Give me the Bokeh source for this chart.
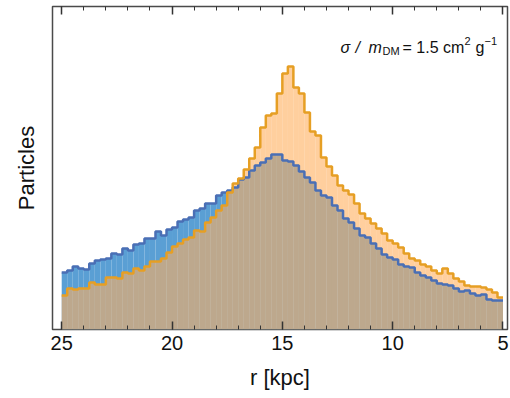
import numpy as np
from bokeh.plotting import figure
from bokeh.models import Range1d, FixedTicker, LinearAxis, Label, ColumnDataSource
from bokeh.embed import file_html
from bokeh.resources import INLINE

# bin edges from 25 kpc down to 5 kpc (80 bins of 0.25 kpc)
bin_edges = list(np.linspace(25.0, 5.0, 81))

# counts per bin (arbitrary units), ordered from r=25 to r=5
blue_counts = [57, 59, 63, 61, 60, 66, 69, 70, 71, 76,
               75, 81, 79, 85, 86, 91, 91, 98, 94, 100,
               102, 108, 110, 112, 119, 121, 126, 126, 134, 137,
               139, 142, 150, 152, 159, 164, 167, 171, 175, 175,
               169, 168, 164, 158, 152, 147, 139, 134, 132, 124,
               119, 111, 107, 101, 94, 92, 86, 81, 75, 72,
               70, 65, 63, 62, 57, 54, 52, 49, 46, 45,
               44, 41, 38, 39, 36, 34, 35, 30, 29, 29]
orange_counts = [34, 41, 40, 41, 41, 47, 45, 45, 52, 52,
                 51, 57, 56, 61, 59, 63, 68, 68, 71, 77,
                 83, 86, 90, 92, 99, 98, 107, 112, 119, 124,
                 137, 146, 151, 160, 171, 182, 202, 214, 216, 236,
                 256, 263, 242, 236, 217, 198, 194, 172, 163, 154,
                 144, 139, 135, 126, 116, 111, 106, 101, 96, 89,
                 86, 82, 76, 71, 69, 65, 63, 59, 56, 61,
                 56, 51, 48, 44, 43, 43, 42, 40, 37, 32]

x_ticks = [25, 20, 15, 10, 5]
x_minor_ticks = list(range(5, 26))

FONT = "Liberation Sans"

p = figure(width=510, height=396, output_backend="svg", toolbar_location=None,
           x_range=Range1d(start=25.417, end=4.796), y_range=Range1d(start=0, end=323),
           min_border_left=52, min_border_right=3, min_border_top=6, min_border_bottom=67,
           x_axis_label="r [kpc]", y_axis_label="Particles")
p.margin = (0, 0, 0, 0)
p.background_fill_color = "white"
p.border_fill_color = "white"
p.xgrid.visible = False
p.ygrid.visible = False
p.outline_line_color = "#4a4a4a"
p.outline_line_width = 1.5

src_b = ColumnDataSource(dict(left=bin_edges[:-1], right=bin_edges[1:], top=blue_counts))
src_o = ColumnDataSource(dict(left=bin_edges[:-1], right=bin_edges[1:], top=orange_counts))

p.quad(left="left", right="right", bottom=0, top="top", source=src_b,
       fill_color="#5a9fd4", fill_alpha=1.0, line_color=None)
p.quad(left="left", right="right", bottom=0, top="top", source=src_o,
       fill_color="#ffaf5d", fill_alpha=0.6, line_color=None)

p.step(x=bin_edges, y=blue_counts + [blue_counts[-1]], mode="after",
       line_color="#4a6fb5", line_width=2.5)
p.step(x=bin_edges, y=orange_counts + [orange_counts[-1]], mode="after",
       line_color="#e69f24", line_width=2.5)

ticker = FixedTicker(ticks=x_ticks, minor_ticks=x_minor_ticks)
xa = p.xaxis[0]
xa.ticker = ticker
xa.axis_line_color = None
xa.major_tick_in = 8
xa.major_tick_out = 0
xa.minor_tick_in = 4
xa.minor_tick_out = 0
xa.major_tick_line_color = "#333333"
xa.major_tick_line_width = 1.5
xa.minor_tick_line_color = "#333333"
xa.minor_tick_line_width = 1
xa.major_label_text_font = FONT
xa.major_label_text_font_size = "20px"
xa.major_label_text_color = "#111111"
xa.major_label_standoff = 6
xa.axis_label_text_font = FONT
xa.axis_label_text_font_size = "22px"
xa.axis_label_text_font_style = "normal"
xa.axis_label_text_color = "#111111"
xa.axis_label_standoff = 12

ya = p.yaxis[0]
ya.ticker = FixedTicker(ticks=[])
ya.axis_line_color = None
ya.major_tick_line_color = None
ya.minor_tick_line_color = None
ya.major_label_standoff = 0
ya.axis_label_text_font = FONT
ya.axis_label_text_font_size = "22px"
ya.axis_label_text_font_style = "normal"
ya.axis_label_text_color = "#111111"
ya.axis_label_standoff = 14

# top ticks (no labels): major ticks drawn as "minor" ticks of one axis, minor ticks of another
top_major = LinearAxis(ticker=FixedTicker(ticks=[], minor_ticks=x_ticks))
top_major.axis_line_color = None
top_major.major_tick_line_color = None
top_major.minor_tick_in = 8
top_major.minor_tick_out = 0
top_major.minor_tick_line_color = "#333333"
top_major.minor_tick_line_width = 1.5
top_major.major_label_standoff = 0
p.add_layout(top_major, "above")

top_minor = LinearAxis(ticker=FixedTicker(ticks=[], minor_ticks=x_minor_ticks))
top_minor.axis_line_color = None
top_minor.major_tick_line_color = None
top_minor.minor_tick_in = 4
top_minor.minor_tick_out = 0
top_minor.minor_tick_line_color = "#333333"
top_minor.minor_tick_line_width = 1
top_minor.major_label_standoff = 0
p.add_layout(top_minor, "above")

# annotation, placed in data coordinates
def xd(px):
    return 25.0 - (px - 61.2) / 22.065

def yd(py):
    return 329.0 - py

pieces = [
    ("σ", 340, 47, "16px", "italic"),
    ("/", 355, 47, "16px", "italic"),
    ("m", 368, 47, "16px", "italic"),
    ("DM", 382, 50, "11px", "normal"),
    ("= 1.5 cm", 402, 47, "16px", "normal"),
    ("2", 464, 40.5, "11px", "normal"),
    ("g", 475, 47, "16px", "normal"),
    ("−1", 484, 40.5, "11px", "normal"),
]
for txt, px, py, fs, st in pieces:
    p.add_layout(Label(x=xd(px), y=yd(py), text=txt, text_font=FONT, text_font_size=fs,
                       text_font_style=st, text_color="#111111",
                       text_align="left", text_baseline="alphabetic"))

open("out.html", "w").write(file_html(p, INLINE))
